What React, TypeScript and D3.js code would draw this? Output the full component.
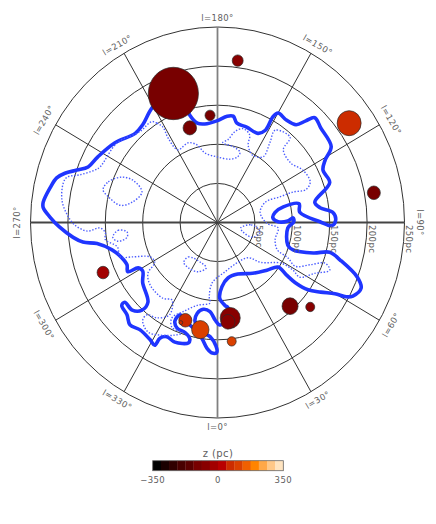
import React from "react";
import * as d3 from "d3";

const W = 436;
const H = 524;

const ringRadii = [50, 100, 150, 200, 250];
const longitudes = [0, 30, 60, 90, 120, 150, 180, 210, 240, 270, 300, 330];
const zBarTicks = [-350, 0, 350];
const palette = [
  "#000000", "#1a0000", "#300000", "#480000", "#5a0000", "#780000", "#880000", "#a20000",
  "#b80000", "#cc2c00", "#da4000", "#f06000", "#ff8400", "#ffa848", "#ffc888", "#ffe4c0",
];

// thick contour, pc (x toward l=90, y toward l=180)
const outerContour: [number, number][] = [
  [81,140],[92,131],[105,125],[118,130],[130,134],[138,121],[152,97],[144,80],[141,67],[150,51],
  [130,26],[137,19],[154,13],[158,3],[153,-4],[137,1],[110,13],[109,24],[88,20],[77,13],[74,6],
  [81,1],[94,2],[101,6],[102,1],[94,-7],[94,-29],[101,-35],[128,-39],[150,-38],[164,-48],[187,-70],
  [192,-84],[181,-94],[172,-95],[157,-91],[138,-89],[121,-86],[104,-77],[92,-67],[81,-57],[66,-61],
  [47,-65],[27,-66],[14,-71],[6,-82],[3,-97],[10,-106],[14,-109],[19,-122],[3,-131],[-3,-125],
  [-10,-114],[-19,-111],[-27,-116],[-30,-127],[-21,-140],[-10,-146],[-2,-158],[-1,-166],[-7,-167],
  [-14,-161],[-21,-148],[-30,-137],[-37,-131],[-43,-125],[-50,-118],[-57,-126],[-54,-135],[-43,-141],
  [-37,-149],[-39,-154],[-57,-153],[-68,-146],[-77,-148],[-84,-157],[-90,-150],[-104,-137],[-117,-131],
  [-121,-118],[-128,-106],[-124,-102],[-114,-112],[-101,-112],[-93,-102],[-100,-77],[-100,-62],
  [-106,-58],[-120,-63],[-121,-54],[-128,-45],[-141,-35],[-161,-27],[-180,-25],[-193,-19],[-211,-6],
  [-224,7],[-233,19],[-233,26],[-224,44],[-215,57],[-204,63],[-188,67],[-173,71],[-160,84],[-137,102],
  [-110,114],[-100,125],[-88,146],[-70,163],[-43,150],[-37,137],[-27,127],[-17,126],[-1,130],[13,136],
  [21,136],[26,127],[39,122],[54,114],[64,118],[74,135],
];

// dotted contours, pc
const innerContour: [number, number][] = [
  [-88,129],[-81,127],[-73,122],[-66,108],[-53,93],[-39,102],[-27,99],[-17,89],[-1,84],[17,81],[27,84],
  [30,90],[21,97],[7,102],[14,106],[23,116],[34,120],[43,112],[41,99],[47,86],[61,84],[70,102],[77,118],
  [97,109],[88,93],[98,76],[114,67],[124,52],[118,42],[101,39],[84,33],[64,26],[57,13],[66,-1],[81,-7],
  [77,-22],[80,-35],[94,-45],[104,-56],[124,-54],[144,-52],[150,-61],[130,-65],[110,-70],[101,-61],[85,-52],
  [58,-51],[41,-45],[27,-51],[10,-63],[-7,-77],[-11,-95],[-10,-103],[-27,-106],[-46,-114],[-61,-122],
  [-61,-134],[-47,-141],[-57,-144],[-77,-144],[-93,-140],[-100,-125],[-94,-118],[-81,-122],[-64,-118],
  [-61,-99],[-73,-97],[-90,-80],[-93,-65],[-84,-51],[-90,-44],[-114,-44],[-130,-44],[-134,-31],[-150,-22],
  [-150,-13],[-157,-7],[-174,-11],[-191,-3],[-201,10],[-208,29],[-206,51],[-201,58],[-184,61],[-164,67],
  [-157,71],[-134,102],[-104,116],
];
const loopA: [number, number][] = [[-153,42],[-146,52],[-128,58],[-113,54],[-101,39],[-114,26],[-130,22],[-146,33]];
const loopB: [number, number][] = [[-140,-19],[-133,-10],[-121,-12],[-121,-19],[-133,-24]];
const loopC: [number, number][] = [[-45,-51],[-39,-44],[-21,-52],[-15,-58],[-26,-63],[-39,-58]];
const loopD: [number, number][] = [[31,-7],[45,-3],[57,-12],[47,-19],[34,-12]];
const dottedLoops = [innerContour, loopA, loopB, loopC, loopD];

// clouds: x pc, y pc, z pc, radius pc
const cloudX = [-59,-37,-10,27,176,209,-153,-43,-23,17,14,19,97,124,-49];
const cloudY = [165,121,137,207,127,38,-64,-125,-137,-122,-127,-152,-107,-108,-128];
const cloudZ = [-109,-109,-109,-66,66,-109,-22,66,109,-66,-66,109,-109,-66,66];
const cloudR = [33.5,9,6.7,7.3,16,8.7,8,8.7,11.6,13.4,9.4,6,10.7,6,2.5];

const xScale = d3.scaleLinear().domain([-250, 250]).range([30.5, 404.5]);
const yScale = d3.scaleLinear().domain([-250, 250]).range([418, 27]);
const barX = d3.scaleLinear().domain([-350, 350]).range([152.7, 283.3]);
const colorOf = d3.scaleQuantize<string>().domain([-350, 350]).range(palette);
const rad = (l: number) => (l * Math.PI) / 180;
const px = (l: number, r: number) => xScale(r * Math.sin(rad(l)));
const py = (l: number, r: number) => yScale(-r * Math.cos(rad(l)));
const sx = (v: number) => xScale(v) - xScale(0);
const sy = (v: number) => yScale(0) - yScale(v);

const closed = d3
  .line<[number, number]>()
  .x((d) => xScale(d[0]))
  .y((d) => yScale(d[1]))
  .curve(d3.curveCatmullRomClosed.alpha(0.5));

const labelFont: React.CSSProperties = {
  fontFamily: "'DejaVu Sans', sans-serif",
  fontSize: 8.5,
  fill: "#606060",
  letterSpacing: 0.4,
};

const labelRotation = (l: number) => {
  if (l === 0 || l === 180) return 0;
  if (l === 90) return 90;
  if (l === 270) return -90;
  if (l < 90) return -l;
  if (l < 270) return 180 - l;
  return 360 - l;
};

export default function App() {
  const bins = d3.range(palette.length);
  const step = 700 / palette.length;
  return (
    <svg width={W} height={H} style={{ position: "absolute", left: 0, top: 0 }}>
      <rect width={W} height={H} fill="#fff" />
      {ringRadii.map((r) => (
        <ellipse key={r} cx={xScale(0)} cy={yScale(0)} rx={sx(r)} ry={sy(r)} fill="none" stroke="#333" strokeWidth={1} />
      ))}
      {longitudes.map((l) => {
        const axisV = l === 0 || l === 180;
        const axisH = l === 90 || l === 270;
        return (
          <line
            key={l}
            x1={xScale(0)}
            y1={yScale(0)}
            x2={px(l, 250)}
            y2={py(l, 250)}
            stroke={axisV ? "#808080" : axisH ? "#444" : "#333"}
            strokeWidth={axisV || axisH ? 1.8 : 1}
          />
        );
      })}
      <path d={closed(outerContour) ?? ""} fill="none" stroke="#1f35ff" strokeWidth={3.6} strokeLinejoin="round" />
      {dottedLoops.map((loop, i) => (
        <path key={i} d={closed(loop) ?? ""} fill="none" stroke="#4a5cff" strokeWidth={1.4} strokeDasharray="1.4 1.7" />
      ))}
      {cloudX.map((x, i) => (
        <ellipse
          key={i}
          cx={xScale(x)}
          cy={yScale(cloudY[i])}
          rx={sx(cloudR[i])}
          ry={sy(cloudR[i])}
          fill={colorOf(cloudZ[i])}
          stroke="#2a2a2a"
          strokeWidth={0.7}
        />
      ))}
      {longitudes.map((l) => {
        const x = xScale(268 * Math.sin(rad(l)) + (l === 90 ? 3 : 0));
        const y = yScale(-262 * Math.cos(rad(l)));
        return (
          <text
            key={l}
            x={x}
            y={y}
            transform={`rotate(${labelRotation(l)} ${x} ${y})`}
            textAnchor="middle"
            dominantBaseline="central"
            style={labelFont}
          >
            {`l=${l}°`}
          </text>
        );
      })}
      {ringRadii.map((r) => {
        const x = xScale(r) + 4.5;
        return (
          <text
            key={r}
            x={x}
            y={225}
            transform={`rotate(90 ${x} 225)`}
            dominantBaseline="central"
            style={labelFont}
          >
            {`${r}pc`}
          </text>
        );
      })}
      {bins.map((i) => (
        <rect
          key={i}
          x={barX(-350 + i * step)}
          y={460.7}
          width={barX(-350 + (i + 1) * step) - barX(-350 + i * step) + 0.3}
          height={10}
          fill={palette[i]}
        />
      ))}
      <rect x={barX(-350)} y={460.7} width={barX(350) - barX(-350)} height={10} fill="none" stroke="#666" strokeWidth={0.8} />
      <text x={218} y={453} textAnchor="middle" dominantBaseline="central" style={{ ...labelFont, fontSize: 10 }}>
        z (pc)
      </text>
      {zBarTicks.map((t) => (
        <text key={t} x={barX(t)} y={479.5} textAnchor="middle" dominantBaseline="central" style={labelFont}>
          {t < 0 ? `−${-t}` : t}
        </text>
      ))}
    </svg>
  );
}
